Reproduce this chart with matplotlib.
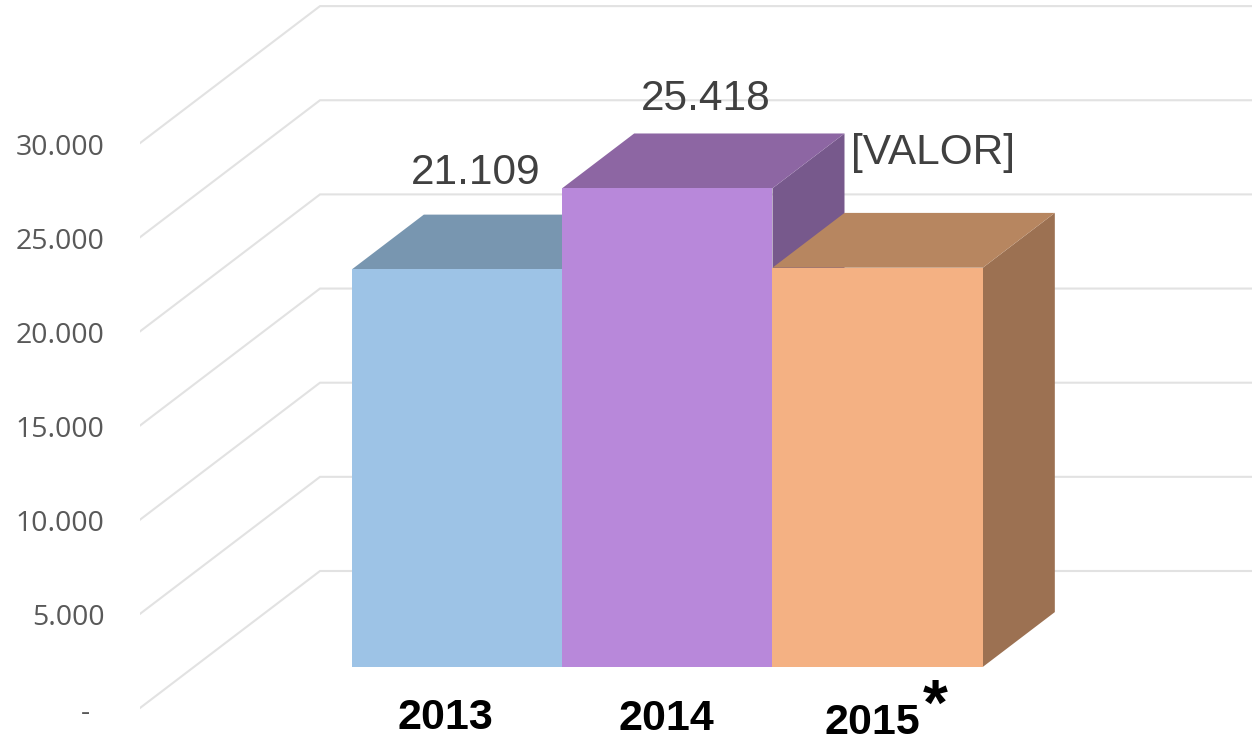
import matplotlib
matplotlib.use("Agg")
import matplotlib.pyplot as plt
from matplotlib.transforms import ScaledTranslation

years = ["2013", "2014", "2015"]
values = [21109, 25418, 21200]
value_labels = ["21.109", "25.418", "[VALOR]"]
ticks = [0, 5000, 10000, 15000, 20000, 25000, 30000]
tick_labels = ["-  ", "5.000", "10.000", "15.000", "20.000", "25.000", "30.000"]

front_colors = ["#9DC3E6", "#B888DA", "#F4B183"]
top_colors = ["#7896B0", "#8D66A3", "#B78660"]
side_colors = ["#6F8CA6", "#77598C", "#9C7152"]

W, H = 1252, 741
px_per_unit = 94.15 / 5000   # vertical pixels for one unit of value
px_per_bar = 210.33          # horizontal pixels for one bar
x_zero = 403                 # pixel of category 0 on the front edge of the floor

fig = plt.figure(figsize=(W / 100, H / 100), dpi=100)
ax = fig.add_axes([140 / W, 0, 1 - 140 / W, 1])
ax.set_xlim((140 - x_zero) / px_per_bar, (W - x_zero) / px_per_bar)
ax.set_ylim((708 - H) / px_per_unit, 708 / px_per_unit)
x0 = ax.get_xlim()[0]
x1 = ax.get_xlim()[1]

# the fake 3d depth, whole box and the part the bars take
depth_x = 180 / px_per_bar
depth_y = 137 / px_per_unit
bar_start = 0.3
bar_depth = 0.4

for s in ax.spines.values():
    s.set_visible(False)
ax.set_xticks([])
ax.set_yticks(ticks, tick_labels)
ax.tick_params(axis="y", length=0, pad=25.5, labelsize=20.5, labelcolor="#595959")
for lab in ax.get_yticklabels():
    lab.set_fontfamily("Open Sans")
    lab.set_transform(lab.get_transform() + ScaledTranslation(0, -1 / 100, fig.dpi_scale_trans))

for t in ticks:
    ax.plot([x0, x0 + depth_x, x1], [t, t + depth_y, t + depth_y],
            color="#E2E2E2", lw=1.5, zorder=1, solid_joinstyle="miter")

sx = depth_x * bar_start
sy = depth_y * bar_start
dx = depth_x * bar_depth
dy = depth_y * bar_depth

for i, v in enumerate(values):
    left = i - 0.5 + sx
    right = i + 0.5 + sx
    z = 2 + i
    ax.fill([right, right + dx, right + dx, right],
            [sy, sy + dy, sy + v + dy, sy + v], color=side_colors[i], lw=0, zorder=z)
    ax.fill([left, right, right + dx, left + dx],
            [sy + v, sy + v, sy + v + dy, sy + v + dy], color=top_colors[i], lw=0, zorder=z)
    ax.fill([left, right, right, left],
            [sy, sy, sy + v, sy + v], color=front_colors[i], lw=0, zorder=z)

# value labels, offset in pixels from the middle of each bar top
label_offsets = [(19, 96), (38, 89), (-27, 115)]
label_ha = ["center", "center", "left"]
for i, v in enumerate(values):
    ox, oy = label_offsets[i]
    ax.annotate(value_labels[i], (i + sx, sy + v), xytext=(ox / 1.389, oy / 1.389),
                textcoords="offset points", ha=label_ha[i], va="center",
                fontsize=30.5, color="#404040", family="Liberation Sans", zorder=10)

# category labels below the bars
year_x = [445, 666, 872]
year_y = [718, 719, 723]
for name, xp, yp in zip(years, year_x, year_y):
    ax.text((xp - x_zero) / px_per_bar, (708 - yp) / px_per_unit, name, ha="center", va="center",
            fontsize=31, fontweight="bold", color="black", family="Liberation Sans", zorder=10)
ax.text((935 - x_zero) / px_per_bar, 0, "*", ha="center", va="center",
        fontsize=46, fontweight="bold", color="black", family="Liberation Sans", zorder=10)

fig.savefig("out.png", dpi=100, facecolor="white")
